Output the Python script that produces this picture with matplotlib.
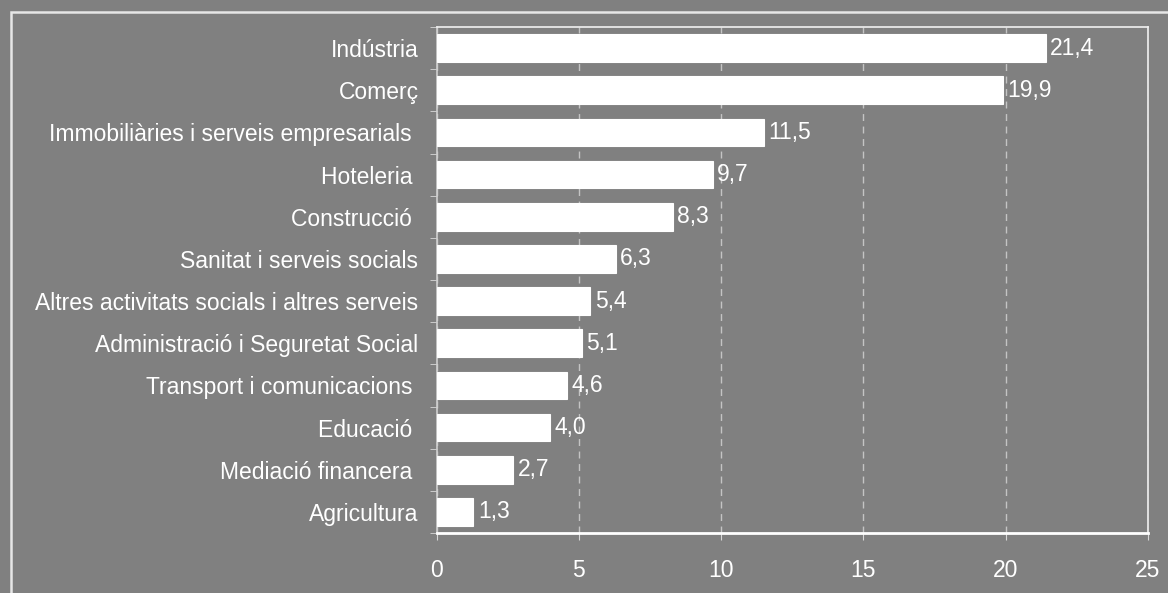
import numpy as np
import matplotlib
matplotlib.use("Agg")
import matplotlib.pyplot as plt
from matplotlib.patches import Rectangle

# dades
sectors = ["Indústria", "Comerç", "Immobiliàries i serveis empresarials ",
           "Hoteleria ", "Construcció ", "Sanitat i serveis socials",
           "Altres activitats socials i altres serveis",
           "Administració i Seguretat Social", "Transport i comunicacions ",
           "Educació ", "Mediació financera ", "Agricultura"]
valors = [21.4, 19.9, 11.5, 9.7, 8.3, 6.3, 5.4, 5.1, 4.6, 4.0, 2.7, 1.3]
x_ticks = [0, 5, 10, 15, 20, 25]

fons = "#808080"
plt.rcParams["font.family"] = ["Liberation Sans", "DejaVu Sans"]
plt.rcParams["font.size"] = 16.5

fig = plt.figure(figsize=(11.68, 5.93), dpi=100, facecolor=fons)
ax = fig.add_axes([436.5/1168, 1 - 533/593, (1148 - 436.5)/1168, (533 - 27)/593])
ax.set_facecolor(fons)

# marc exterior
fig.patches.append(Rectangle((11/1168, -0.1), 1.2, 1 - 12/593 + 0.1,
                             transform=fig.transFigure, fill=False,
                             edgecolor="#e6e6e6", linewidth=1.8))

y = np.arange(len(sectors))
ax.barh(y, valors, height=0.66, color="white", edgecolor="white",
        linewidth=0.8, zorder=3)

for yi, v in zip(y, valors):
    ax.text(v + 0.16, yi, "{:.1f}".format(v).replace(".", ","),
            va="center", ha="left", color="white", fontsize=16.5, zorder=4)

ax.set_xlim(0, 25)
ax.set_ylim(len(sectors) - 0.5, -0.5)
ax.set_xticks(x_ticks)
ax.set_yticks(y)
ax.set_yticklabels(sectors)
ax.set_yticks(np.arange(len(sectors) + 1) - 0.5, minor=True)

ax.tick_params(axis="y", which="major", length=0, pad=13, colors="white")
ax.tick_params(axis="y", which="minor", length=5, color="#d8d8d8")
ax.tick_params(axis="x", length=5, color="#d8d8d8", labelcolor="white", pad=14)

ax.xaxis.grid(True, linestyle=(0, (5, 4)), color="#c4c4c4", linewidth=1)
ax.set_axisbelow(True)

for s in ax.spines.values():
    s.set_color("#f0f0f0")
    s.set_linewidth(1.2)
ax.spines["left"].set_color("#d0d0d0")
ax.spines["bottom"].set_linewidth(2)
ax.spines["bottom"].set_color("white")

fig.savefig("out.png", dpi=100, facecolor=fons)
